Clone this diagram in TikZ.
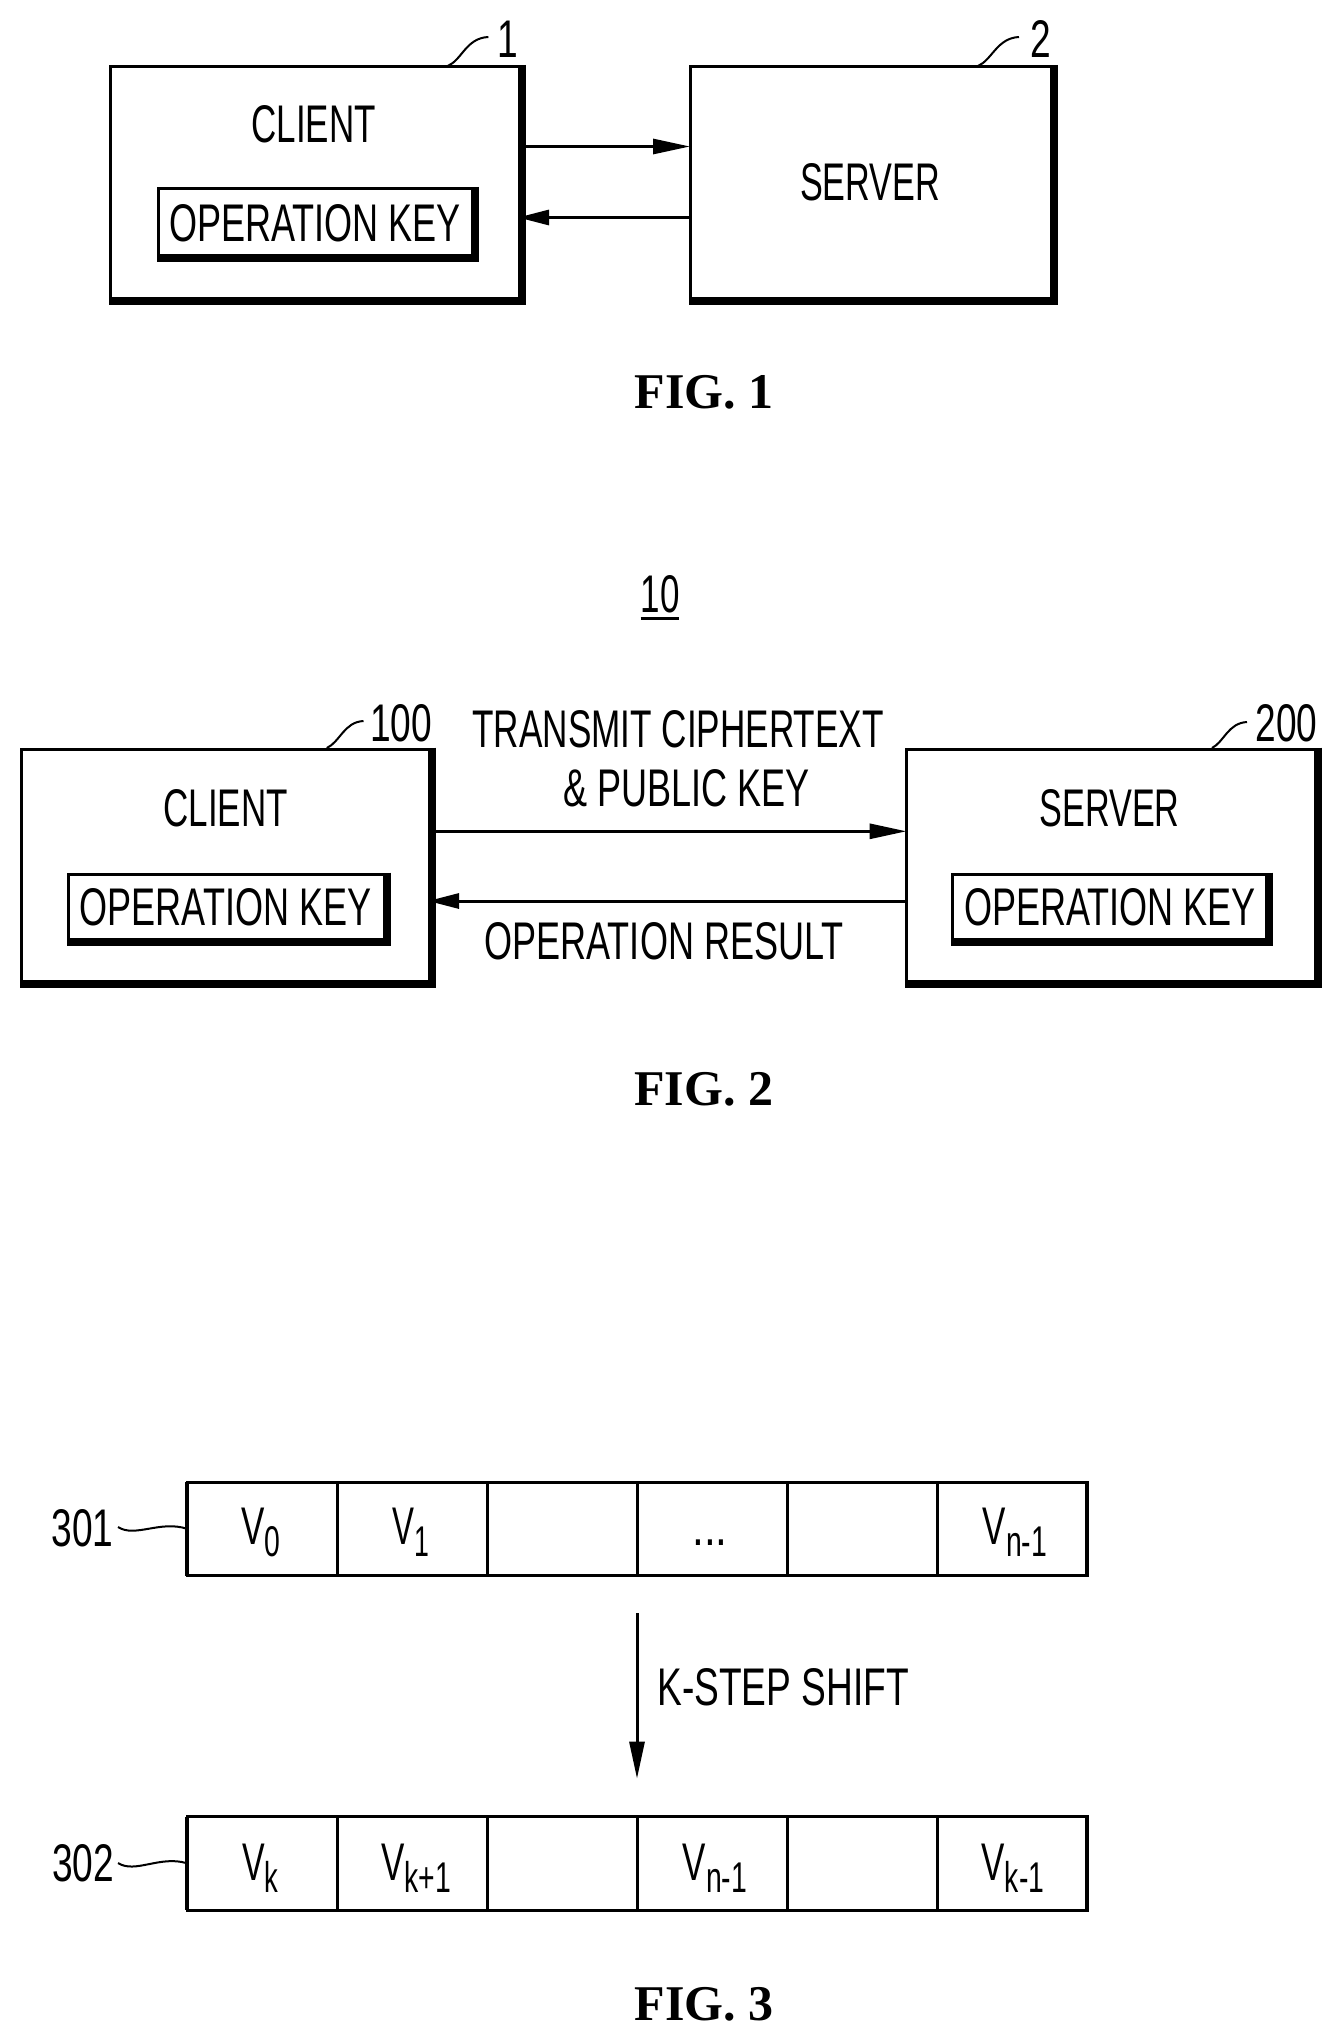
\documentclass[tikz,border=0pt]{standalone}
\usepackage{graphicx}
\usepackage{fontspec}
\setmainfont{Liberation Sans}
\newfontfamily\figfont{Liberation Serif}
\usetikzlibrary{arrows.meta,calc}
\tikzset{
  lbl/.style={anchor=base,inner sep=0pt,outer sep=0pt,font=\fontsize{53}{60}\selectfont},
  figlbl/.style={anchor=base,inner sep=0pt,outer sep=0pt,font=\figfont\bfseries\fontsize{50}{60}\selectfont},
  frame/.style={draw,line width=3pt,inner sep=0pt,outer sep=0pt,line join=miter},
  shadowline/.style={line width=8pt,line join=miter,line cap=butt},
  cell/.style={draw,line width=3pt,inner sep=0pt,outer sep=0pt,minimum width=150pt,minimum height=93.5pt},
  edgeline/.style={line width=4pt},
  arr/.style={line width=3pt,-{Triangle[length=37pt,width=15pt]}},
  arrb/.style={line width=3pt,-{Triangle[length=31pt,width=15pt]}},
  lead/.style={line width=2pt},
}
\newcommand{\T}[5]{\node[lbl] (#1) at (#2,#3) {\scalebox{#4}[1]{#5}};}
\newcommand{\Vs}[1]{V\raisebox{-12pt}{\fontsize{43}{50}\selectfont #1}}
% name x1 y1 x2 y2: frame with heavy right and bottom sides
\newcommand{\SB}[5]{%
  \node[frame,minimum width={(#4-#2)*1pt},minimum height={(#5-#3)*1pt}] (#1) at ({(#2+#4)/2},{(#3+#5)/2}) {};
  \draw[shadowline] ([yshift=1.5pt]#1.north east) -- (#1.south east) -- ([xshift=-1.5pt]#1.south west);
}
\begin{document}
\begin{tikzpicture}[x=1pt,y=-1pt]
\path[fill=white,use as bounding box] (0,0) rectangle (1342,2041);

% ---------- FIG. 1
\SB{cA}{110.5}{66.5}{522}{301}
\SB{sA}{690}{66.5}{1054}{301}
\SB{kA}{158}{188.5}{474.6}{257.7}
\T{clientA}{313.7}{142.5}{.66}{CLIENT}
\T{opA}{315}{241.5}{.68}{OPERATION KEY}
\T{serverA}{870}{200.5}{.645}{SERVER}
\T{nA}{507.5}{58}{.7}{1}
\T{nB}{1041}{58}{.7}{2}
\node[figlbl] (figA) at (704,408) {FIG. 1};
\coordinate (aAu) at (600,146.5);
\coordinate (aAl) at (600,217.5);
\draw[arr] (aAu -| cA.east) -- (aAu -| sA.west);
\draw[arrb,shorten >=-4pt] (aAl -| sA.west) -- (aAl -| cA.east);
\coordinate (lA) at (488.4,37);
\coordinate (lB) at (1019,37);
\coordinate (lAb) at (447.7,66);
\coordinate (lBb) at (978,66);
\draw[lead] (lAb) .. controls (462,60) and (466,38) .. (lA);
\draw[lead] (lBb) .. controls (992,60) and (997,38) .. (lB);

% ---------- FIG. 2
\T{ten}{660}{612}{.66}{10}
\draw[line width=3pt] ([yshift=-6.3pt]ten.south west) -- ([yshift=-6.3pt]ten.south east);
\SB{cB}{21.5}{749}{432}{984}
\SB{sB}{906.5}{749}{1318}{984}
\SB{kBc}{68}{874}{387}{942}
\SB{kBs}{952.5}{874}{1269}{942}
\T{clientB}{225.5}{826}{.66}{CLIENT}
\T{serverB}{1109.5}{826}{.645}{SERVER}
\T{opBc}{225.4}{925}{.68}{OPERATION KEY}
\T{opBs}{1110}{925}{.68}{OPERATION KEY}
\T{tx}{678}{747}{.663}{TRANSMIT CIPHERTEXT}
\T{pk}{686.6}{806}{.68}{\& PUBLIC KEY}
\T{res}{664}{959.4}{.68}{OPERATION RESULT}
\T{nC}{401}{741.8}{.7}{100}
\T{nD}{1286.5}{741.8}{.7}{200}
\node[figlbl] (figB) at (703.6,1105) {FIG. 2};
\coordinate (aBu) at (600,831.3);
\coordinate (aBl) at (600,901);
\draw[arr] (aBu -| cB.east) -- (aBu -| sB.west);
\draw[arrb,shorten >=-4pt] (aBl -| sB.west) -- (aBl -| cB.east);
\coordinate (lC) at (363.5,721);
\coordinate (lD) at (1247,722);
\coordinate (lCb) at (326.8,748);
\coordinate (lDb) at (1212,748);
\draw[lead] (lCb) .. controls (340,742) and (344,722) .. (lC);
\draw[lead] (lDb) .. controls (1224,742) and (1228,723) .. (lD);

% ---------- FIG. 3
\foreach \i [evaluate=\i as \xc using {262+150*(\i-1)}] in {1,...,6}{
  \node[cell] (p\i) at (\xc,1528.75) {};
  \node[cell] (q\i) at (\xc,1863.25) {};
}
\draw[edgeline] (p1.north west) -- (p1.south west);
\draw[edgeline] (p6.north east) -- (p6.south east);
\draw[edgeline] (q1.north west) -- (q1.south west);
\draw[edgeline] (q6.north east) -- (q6.south east);
\T{vA}{261}{1544.7}{.66}{\Vs{0}}
\T{vB}{411}{1544.7}{.62}{\Vs{1}}
\T{vC}{710}{1545}{.8}{...}
\T{vD}{1015}{1544.7}{.66}{\Vs{n-1}}
\T{wA}{260.5}{1880}{.64}{\Vs{k}}
\T{wB}{416}{1880}{.66}{\Vs{k+1}}
\T{wC}{715}{1880}{.66}{\Vs{n-1}}
\T{wD}{1013}{1880}{.66}{\Vs{k-1}}
\T{nE}{82.5}{1546}{.7}{301}
\T{nF}{83}{1881.5}{.7}{302}
\T{shift}{783}{1705}{.70}{K-STEP SHIFT}
\node[figlbl] (figC) at (704,2020.5) {FIG. 3};
\coordinate (ks) at (637,1613);
\coordinate (ke) at (637,1778.6);
\draw[line width=3pt,-{Triangle[length=37pt,width=15pt]}] (ks) -- (ke);
\coordinate (lE) at (118,1527);
\coordinate (lF) at (118,1863);
\draw[lead] (lE) .. controls (135,1538) and (160,1520) .. (p1.west);
\draw[lead] (lF) .. controls (135,1874) and (160,1855) .. (q1.west);
\end{tikzpicture}
\end{document}
